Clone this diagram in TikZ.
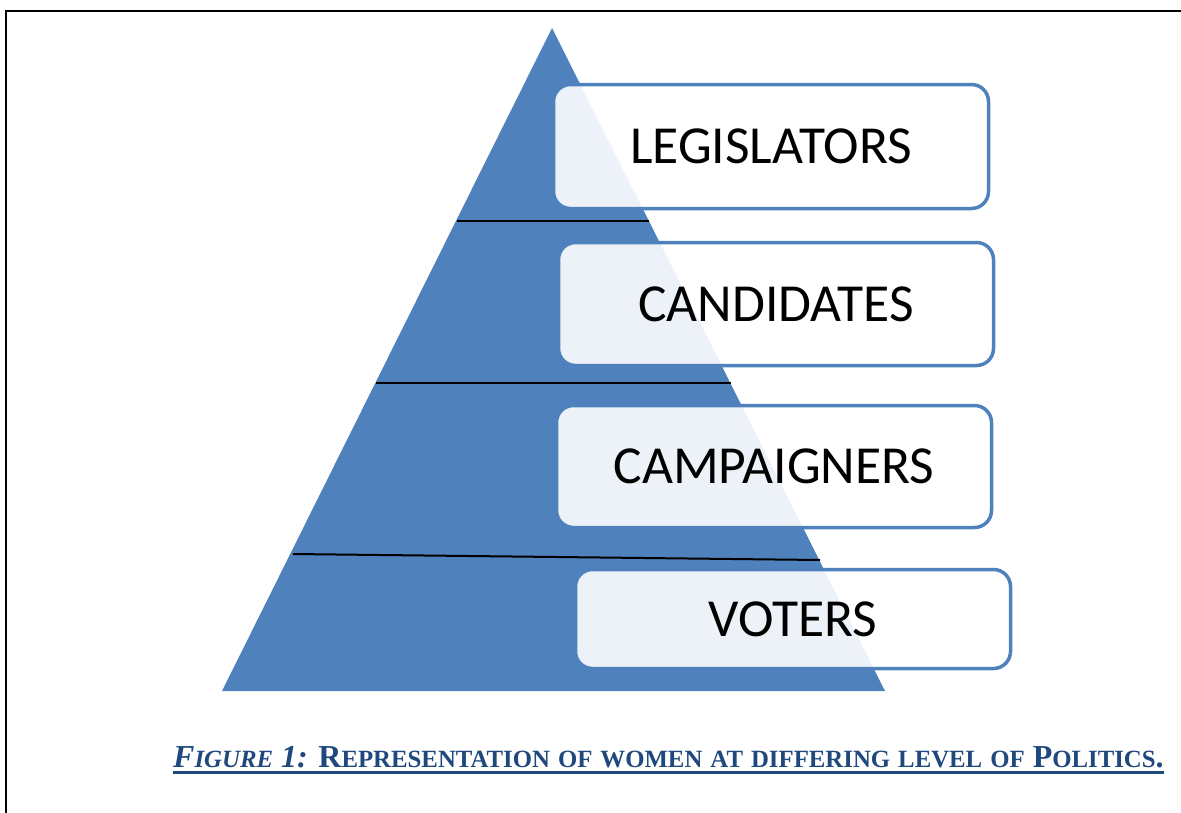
\documentclass[tikz,border=0pt]{standalone}
\usepackage{fontspec}
\setmainfont{Liberation Serif}
\newfontfamily\labelfont{Carlito}
\definecolor{pyrblue}{HTML}{4F81BD}
\definecolor{capblue}{HTML}{1F497D}
% fake small caps: lower-case letters set as reduced capitals
\newcommand{\smc}[1]{{\fontsize{24.8}{30}\selectfont #1}}
\begin{document}
\begin{tikzpicture}[x=1pt,y=-1pt,
  tier/.style={draw=pyrblue, line width=3.5pt, fill=white, fill opacity=0.9,
    text opacity=1, rounded corners=17pt, minimum width=435pt, inner sep=0pt,
    font=\labelfont\fontsize{53.5}{62}\selectfont, text=black},
  divider/.style={draw=black, line width=2pt},
  frameline/.style={draw=black, line width=2pt}]
\useasboundingbox (0,0) rectangle (1181,812);
\clip (0,0) rectangle (1181,812);

% page frame (only its top and left sides lie inside the picture)
\draw[frameline] (6,1000) -- (6,11) -- (1300,11);

% pyramid
\coordinate (apex) at (552,28);
\coordinate (baseL) at (222,691);
\coordinate (baseR) at (885,691);
\fill[pyrblue] (apex) -- (baseR) -- (baseL) -- cycle;

% level dividers
\coordinate (d1l) at (457,221);
\coordinate (d1r) at (649,221);
\coordinate (d2l) at (376,383);
\coordinate (d2r) at (731,383);
\coordinate (d3l) at (293,554);
\coordinate (d3r) at (820,560);
\draw[divider] (d1l) -- (d1r);
\draw[divider] (d2l) -- (d2r);
\draw[divider] (d3l) -- (d3r);

% level labels
\node[tier, minimum height=124pt] (legis) at (771,146.5) {LEGISLATORS};
\node[tier, minimum height=123pt] (cand)  at (776,304)   {CANDIDATES};
\node[tier, minimum height=122pt] (camp)  at (774,466.5) {CAMPAIGNERS};
\node[tier, minimum height=99pt]  (vote)  at (793,619)   {VOTERS};

% caption
\node[anchor=base west, inner sep=0pt, text=capblue,
      font=\fontsize{32}{38}\selectfont\bfseries] (cap) at (173,767)
  {\textit{F\smc{IGURE} 1:} R\smc{EPRESENTATION} \smc{OF} \smc{WOMEN} \smc{AT}
   \smc{DIFFERING} \smc{LEVEL} \smc{OF} P\smc{OLITICS}.};
\draw[capblue, line width=3pt] ([yshift=-5.5pt]cap.base west) -- ([yshift=-5.5pt]cap.base east);
\end{tikzpicture}
\end{document}
